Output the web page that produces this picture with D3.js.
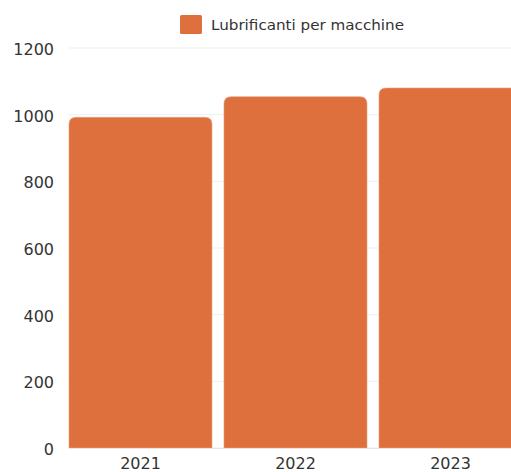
<!DOCTYPE html>
<html><head><meta charset="utf-8">
<script src="https://cdn.jsdelivr.net/npm/d3@7"></script>
<style>body{margin:0;background:#fff;overflow:hidden}svg{display:block;font-family:"DejaVu Sans",sans-serif}</style>
</head><body><svg id="c" width="511" height="472"></svg>
<script>
const categories = ["2021", "2022", "2023"];
const values = [992, 1054, 1080];
const yTicks = [0, 200, 400, 600, 800, 1000, 1200];
const seriesName = "Lubrificanti per macchine";

const svg = d3.select("#c");
const color = "#DE703D";
const FONT = "DejaVu Sans, sans-serif";
const x = d3.scaleBand().domain(categories).range([69, 522]).paddingInner(0.0774).paddingOuter(0);
const y = d3.scaleLinear().domain([0, 1200]).range([448, 48]);

// grid
svg.append("g").selectAll("line").data(yTicks).join("line")
  .attr("x1", 68).attr("x2", 511).attr("y1", d => y(d)).attr("y2", d => y(d))
  .attr("stroke", "#efefef").attr("stroke-width", 1);

// y axis
const ya = svg.append("g").attr("transform", "translate(54,1.5)")
  .call(d3.axisLeft(y).tickValues(yTicks).tickFormat(d3.format("d")).tickSize(0).tickPadding(0));
ya.select(".domain").remove();
ya.selectAll("text").attr("font-size", 16).attr("fill", "#333").attr("font-family", FONT);

// bars with rounded top
const r = 7;
function barPath(d, i) {
  const x0 = x(categories[i]), w = x.bandwidth(), y0 = y(d), y1 = y(0);
  return `M${x0},${y1}V${y0 + r}Q${x0},${y0} ${x0 + r},${y0}H${x0 + w - r}Q${x0 + w},${y0} ${x0 + w},${y0 + r}V${y1}Z`;
}
svg.append("g").selectAll("path").data(values).join("path")
  .attr("d", barPath).attr("fill", color).attr("stroke", "#e9a07e").attr("stroke-width", 0.6);

// x axis
const xa = svg.append("g").attr("transform", "translate(0,448)")
  .call(d3.axisBottom(x).tickSize(0).tickPadding(10));
xa.select(".domain").attr("stroke", "#e6e6e6");
xa.selectAll("text").attr("font-size", 16).attr("fill", "#333").attr("font-family", FONT);

// legend
const lg = svg.append("g");
lg.append("rect").attr("x", 180).attr("y", 15).attr("width", 22).attr("height", 19).attr("rx", 1.5).attr("fill", color);
lg.append("text").attr("x", 211).attr("y", 29.5).attr("font-size", 14.5).attr("fill", "#333").attr("font-family", FONT)
  .attr("textLength", 193).attr("lengthAdjust", "spacingAndGlyphs").text(seriesName);
</script></body></html>
